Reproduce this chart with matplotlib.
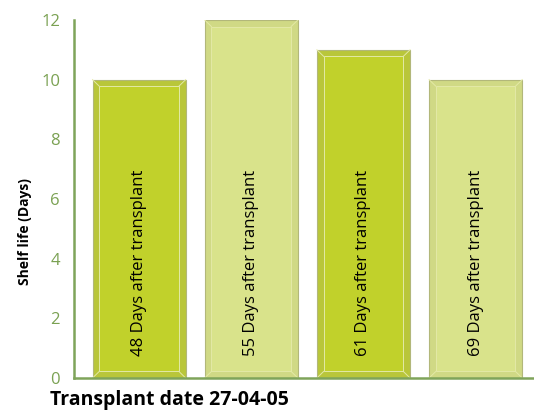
import matplotlib.pyplot as plt
from matplotlib.patches import Rectangle

plt.rcParams['font.family'] = ['Open Sans', 'DejaVu Sans']

labels = ['48 Days after transplant', '55 Days after transplant',
          '61 Days after transplant', '69 Days after transplant']
shelf_life = [10, 12, 11, 10]
face = ['#c1d12b', '#d9e38b', '#c1d12b', '#d9e38b']
rim = ['#b9c63a', '#d0d985', '#b9c63a', '#d0d985']

fig = plt.figure(figsize=(5.34, 4.18), dpi=100)
ax = fig.add_axes([0.1386, 0.0957, 0.8614, 0.8565])

width = 0.83
ix, iy = 0.06, 0.22  # bevel inset (data units)
for i, (v, fc, rc, lab) in enumerate(zip(shelf_life, face, rim, labels)):
    x0 = i - width / 2
    ax.add_patch(Rectangle((x0, 0), width, v, facecolor=rc,
                           edgecolor='#b2b77a', linewidth=0.8))
    ax.add_patch(Rectangle((x0 + ix, iy), width - 2 * ix, v - 2 * iy,
                           facecolor=fc, edgecolor='#e3e9a6', linewidth=0.7))
    ax.plot([x0, x0 + ix], [v, v - iy], color='#e3e9a6', lw=0.7)
    ax.plot([x0 + width, x0 + width - ix], [v, v - iy], color='#e3e9a6', lw=0.7)
    ax.plot([x0, x0 + ix], [0, iy], color='#e3e9a6', lw=0.7)
    ax.plot([x0 + width, x0 + width - ix], [0, iy], color='#e3e9a6', lw=0.7)
    ax.text(i, 3.85, lab, rotation=90, ha='center', va='center',
            fontsize=12, color='black')

ax.set_xlim(-0.58, 3.52)
ax.set_ylim(0, 12)
ax.set_yticks([0, 2, 4, 6, 8, 10, 12])
ax.set_xticks([])
ax.tick_params(axis='y', length=0, pad=10, labelsize=12, labelcolor='#7aa152')
for s in ['top', 'right']:
    ax.spines[s].set_visible(False)
for s in ['left', 'bottom']:
    ax.spines[s].set_color('#7fa45a')
    ax.spines[s].set_linewidth(1.8)

fig.text(0.047, 0.445, 'Shelf life (Days)', fontsize=10, fontweight='bold',
         rotation=90, ha='center', va='center')
fig.text(0.094, 0.03, 'Transplant date 27-04-05', fontsize=14,
         fontweight='bold', ha='left', va='baseline')

fig.savefig('out.png', dpi=100)
